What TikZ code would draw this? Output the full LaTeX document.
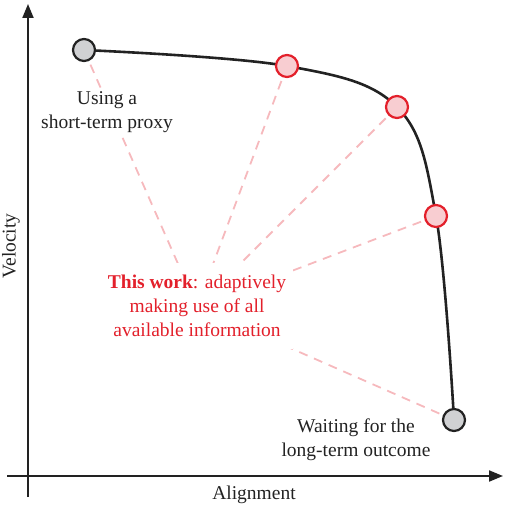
\documentclass[tikz,border=0pt]{standalone}
\usepackage{fontspec}
\setmainfont{Liberation Serif}
\usetikzlibrary{arrows.meta,backgrounds}
\definecolor{axisc}{HTML}{222222}
\definecolor{redc}{HTML}{E3202B}
\definecolor{pinkfill}{HTML}{F8CDD1}
\definecolor{dashc}{HTML}{F6B9BD}
\definecolor{grayfill}{HTML}{D0D1D3}
\tikzset{
  axis/.style={draw=axisc, line width=2pt, -{Triangle[length=14pt,width=11pt]}},
  graydot/.style={circle, draw=axisc, fill=grayfill, line width=2.2pt, minimum size=22pt, inner sep=0pt},
  reddot/.style={circle, draw=redc, fill=pinkfill, line width=2.2pt, minimum size=22pt, inner sep=0pt},
  txt/.style={font=\fontsize{19.5}{24}\selectfont},
  lbl/.style={txt, align=center, text=axisc, fill=white, inner sep=2pt},
  worklbl/.style={txt, align=center, text=redc, fill=white, inner sep=4pt},
  hint/.style={draw=dashc, line width=1.8pt, dash pattern=on 9pt off 7pt},
  curve/.style={draw=axisc, line width=2.6pt}
}
\begin{document}
\begin{tikzpicture}[x=1pt,y=-1pt]
\useasboundingbox (0,0) rectangle (504,508);
% axes
\coordinate (xs) at (7,476);
\coordinate (xe) at (503,476);
\coordinate (ys) at (28,497);
\coordinate (ye) at (28,4);
\draw[axis] (xs) -- (xe);
\draw[axis] (ys) -- (ye);
\node[txt, text=axisc] (xl) at (254,495) {Alignment};
\node[txt, text=axisc, rotate=90, inner sep=1pt] (yl) at (11,246) {Velocity};
% points
\coordinate (p0) at (84,50);
\coordinate (p1) at (287,66);
\coordinate (p2) at (397,107);
\coordinate (p3) at (436,216);
\coordinate (p4) at (454,420);
\coordinate (wc) at (197,307);
% dashed hints
\draw[hint] (p0) -- (wc);
\draw[hint] (p1) -- (wc);
\draw[hint] (p2) -- (wc);
\draw[hint] (p3) -- (wc);
\draw[hint] (p4) -- (wc);
% curve
\draw[curve] plot[smooth, tension=0.6] coordinates {(84,50) (287,66) (397,107) (436,216) (454,420)};
% labels
\node[lbl] (short) at (107,112) {Using a\\short-term proxy};
\node[lbl] (long) at (356,440) {Waiting for the\\long-term outcome};
\node[worklbl, minimum width=192pt, minimum height=86pt] (work) at (197,306) {\textbf{This work}: adaptively\\making use of all\\available information};
% dots
\node[graydot] (d0) at (p0) {};
\node[reddot] (d1) at (p1) {};
\node[reddot] (d2) at (p2) {};
\node[reddot] (d3) at (p3) {};
\node[graydot] (d4) at (p4) {};
\end{tikzpicture}
\end{document}
